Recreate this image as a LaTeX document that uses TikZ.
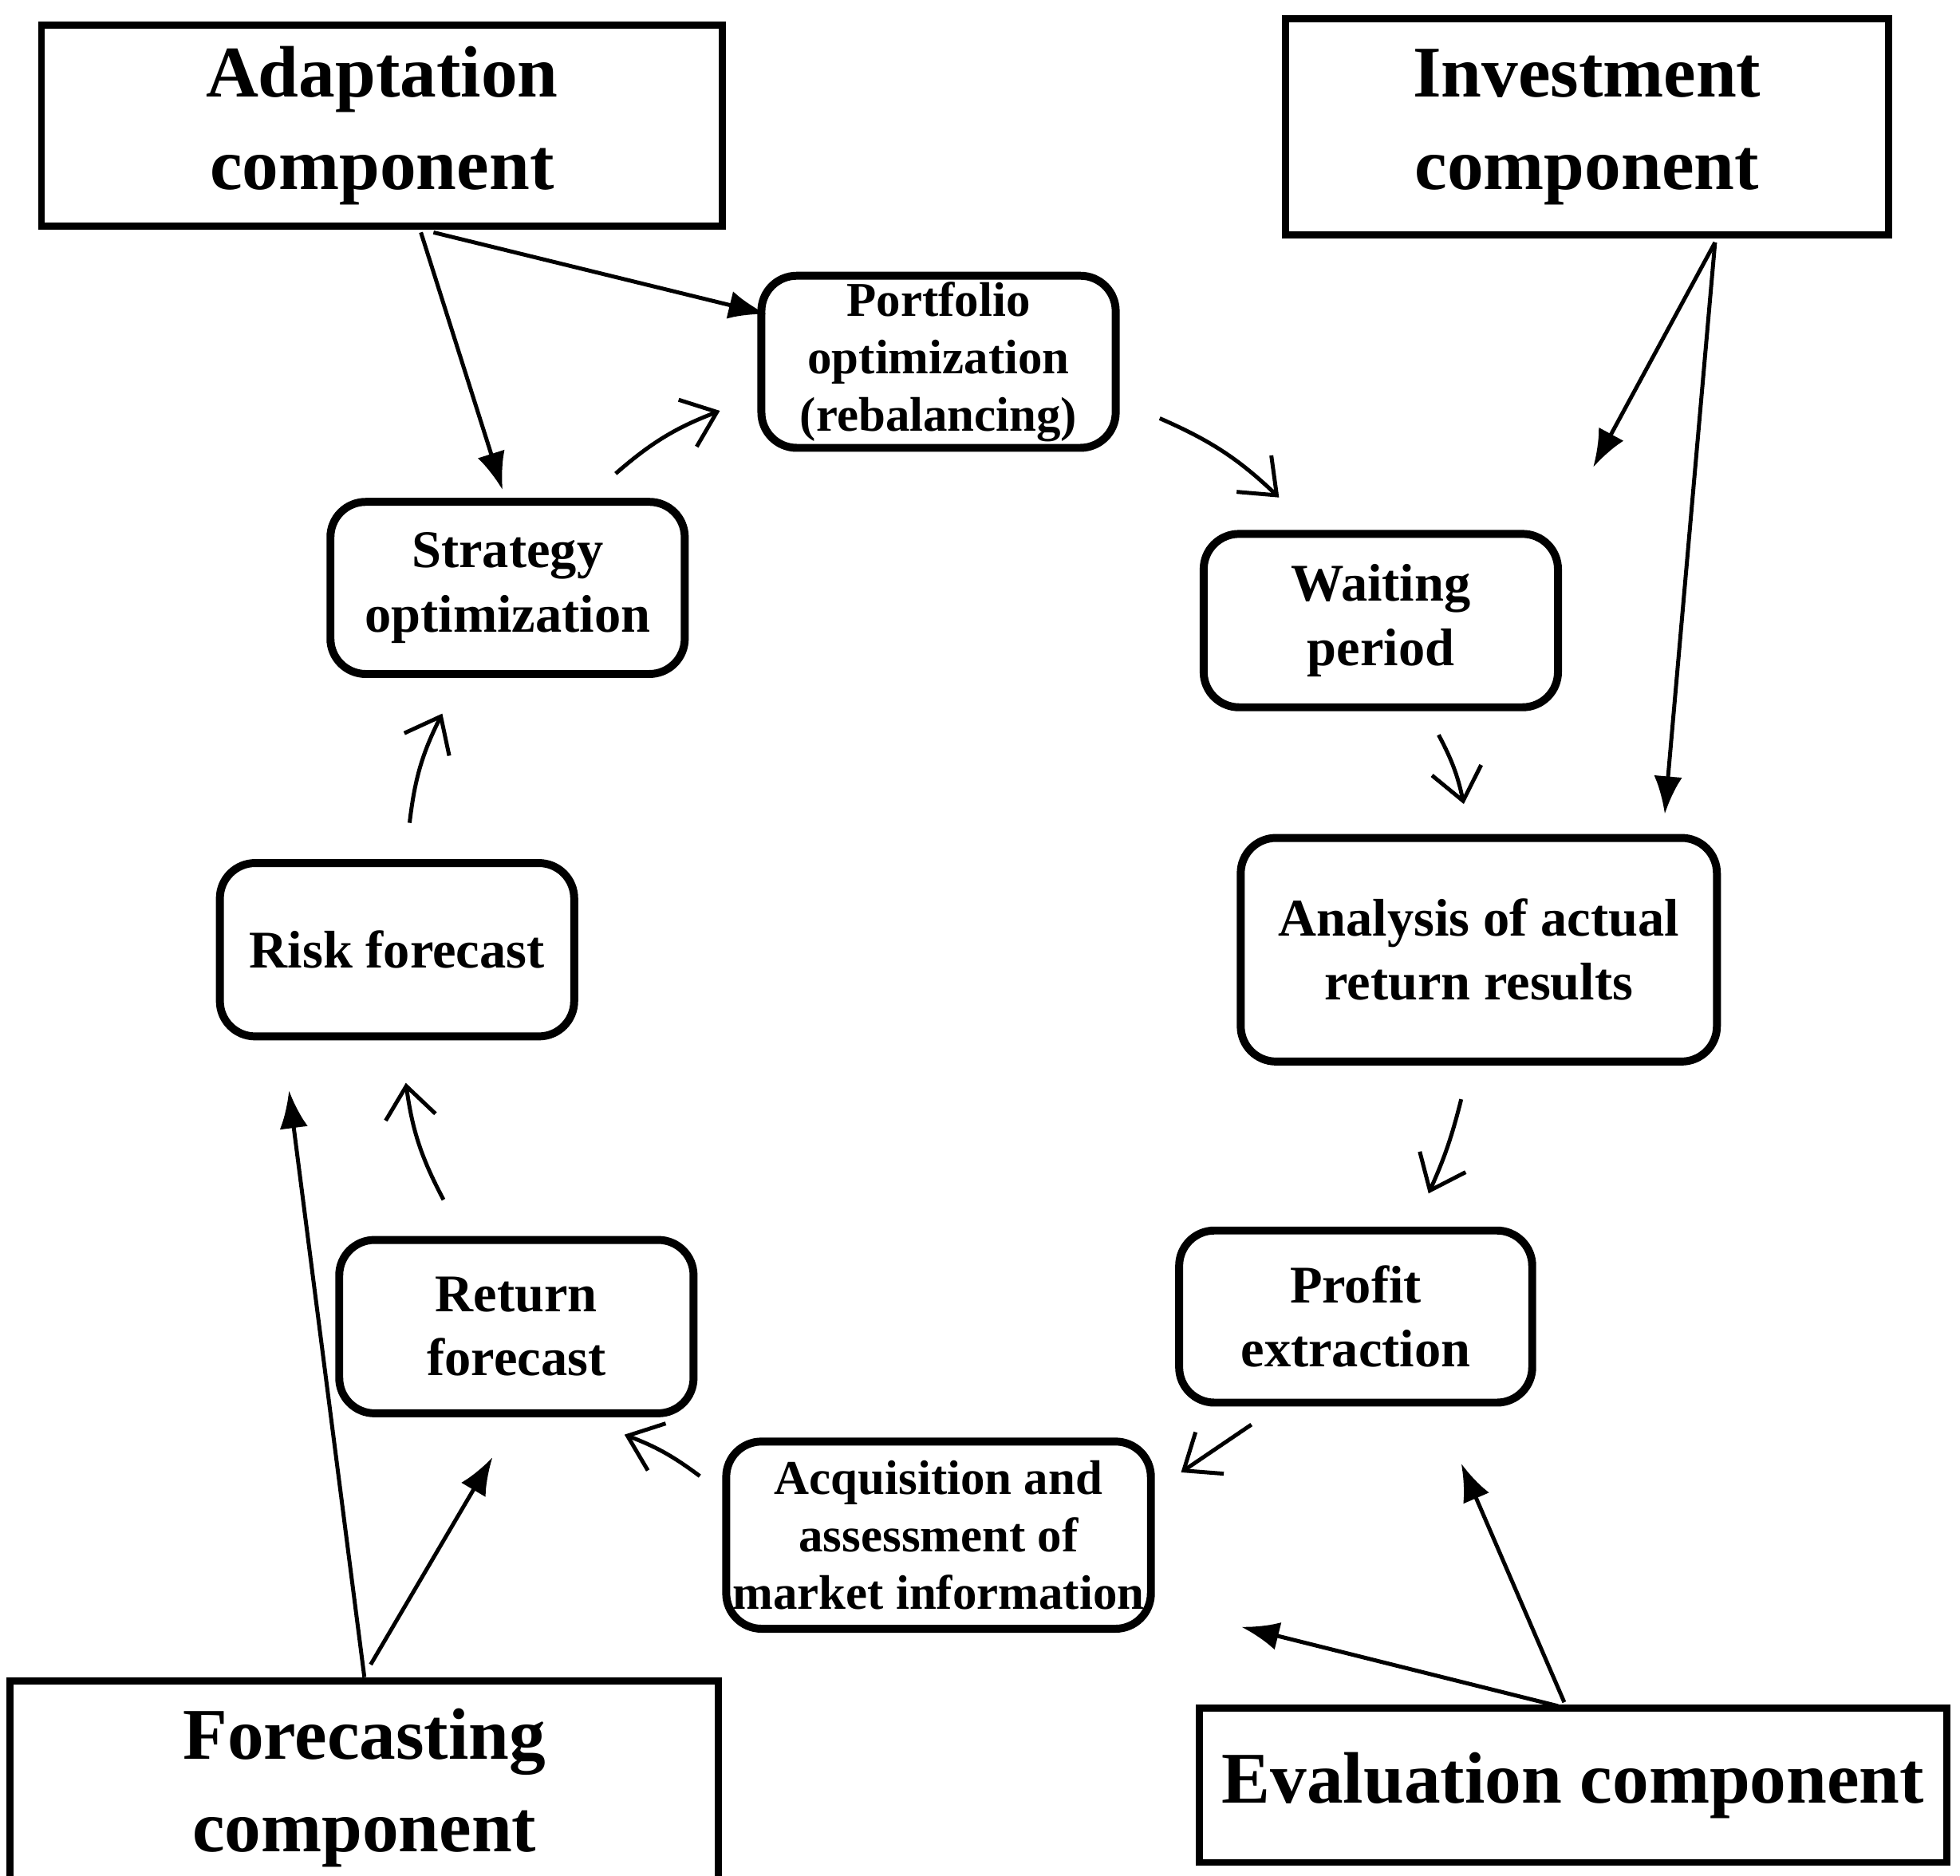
\documentclass[tikz,border=0pt]{standalone}
\usepackage{fontspec}
\setmainfont{Liberation Serif}
\usepackage{tikz}
\usetikzlibrary{arrows.meta, positioning}

\begin{document}
\begin{tikzpicture}[
  comp/.style={
    draw,
    line width=1.6pt,
    font=\fontsize{16.5}{21}\selectfont\bfseries,
    align=center,
    inner sep=0pt
  },
  stage/.style={
    draw,
    rounded corners=8pt,
    line width=1.8pt,
    font=\fontsize{12}{14.5}\selectfont\bfseries,
    align=center,
    inner sep=0pt
  },
  arr/.style={
    -{Latex[length=3mm]},
    line width=0.9pt
  },
  cyc/.style={
    -{Straight Barb[length=2.5mm,width=4mm]},
    line width=0.9pt
  }
]
\useasboundingbox (0,0) rectangle (15.6,-14.93);

% Components
\node [comp, minimum width=5.42cm, minimum height=1.6cm] (adapt) at (3.04,-1.00) {Adaptation\\component};
\node [comp, minimum width=4.80cm, minimum height=1.72cm] (invest) at (12.63,-1.01) {Investment\\component};
\node [comp, minimum width=5.64cm, minimum height=1.70cm] (forec) at (2.90,-14.23) {Forecasting\\component};
\node [comp, minimum width=5.95cm, minimum height=1.23cm] (evalc) at (12.52,-14.21) {Evaluation component};

% Stages
\node [stage, minimum width=2.82cm, minimum height=1.37cm, font=\fontsize{11}{13}\selectfont\bfseries] (portf) at (7.47,-2.88) {Portfolio\\optimization\\(rebalancing)};
\node [stage, minimum width=2.82cm, minimum height=1.37cm] (strat) at (4.04,-4.68) {Strategy\\optimization};
\node [stage, minimum width=2.82cm, minimum height=1.38cm] (wait) at (10.99,-4.94) {Waiting\\period};
\node [stage, minimum width=3.79cm, minimum height=1.78cm] (anal) at (11.77,-7.56) {Analysis of actual\\return results};
\node [stage, minimum width=2.82cm, minimum height=1.38cm] (risk) at (3.16,-7.56) {Risk forecast};
\node [stage, minimum width=2.82cm, minimum height=1.38cm] (ret) at (4.11,-10.56) {Return\\forecast};
\node [stage, minimum width=2.81cm, minimum height=1.37cm] (profit) at (10.79,-10.48) {Profit\\extraction};
\node [stage, minimum width=3.38cm, minimum height=1.49cm, font=\fontsize{11}{13}\selectfont\bfseries] (acq) at (7.47,-12.22) {Acquisition and\\assessment of\\market information};

% Free ends
\coordinate (a1) at (3.35,-1.85);
\coordinate (a2) at (3.45,-1.85);
\coordinate (i1) at (13.65,-1.93);
\coordinate (f1) at (2.90,-13.35);
\coordinate (f2) at (2.95,-13.25);
\coordinate (e1) at (12.45,-13.55);
\coordinate (e2) at (12.40,-13.58);

% Component arrows
\draw [arr] (a1) -- (4.00,-3.90);
\draw [arr] (a2) -- (6.10,-2.50);
\draw [arr] (i1) -- (12.68,-3.72);
\draw [arr] (i1) -- (13.25,-6.48);
\draw [arr] (f1) -- (2.30,-8.68);
\draw [arr] (f2) -- (3.92,-11.60);
\draw [arr] (e1) -- (11.63,-11.65);
\draw [arr] (e2) -- (9.88,-12.95);

% Cycle
\draw [cyc] (4.90,-3.77) to[bend left=10] (5.73,-3.27);
\draw [cyc] (9.23,-3.33) to[bend left=10] (10.18,-3.96);
\draw [cyc] (11.45,-5.85) to[bend left=8] (11.65,-6.40);
\draw [cyc] (11.63,-8.75) to[bend left=5] (11.37,-9.50);
\draw [cyc] (9.96,-11.34) -- (9.40,-11.72);
\draw [cyc] (5.57,-11.75) to[bend right=8] (4.97,-11.42);
\draw [cyc] (3.53,-9.55) to[bend left=10] (3.23,-8.62);
\draw [cyc] (3.26,-6.55) to[bend left=10] (3.52,-5.68);

\end{tikzpicture}
\end{document}
